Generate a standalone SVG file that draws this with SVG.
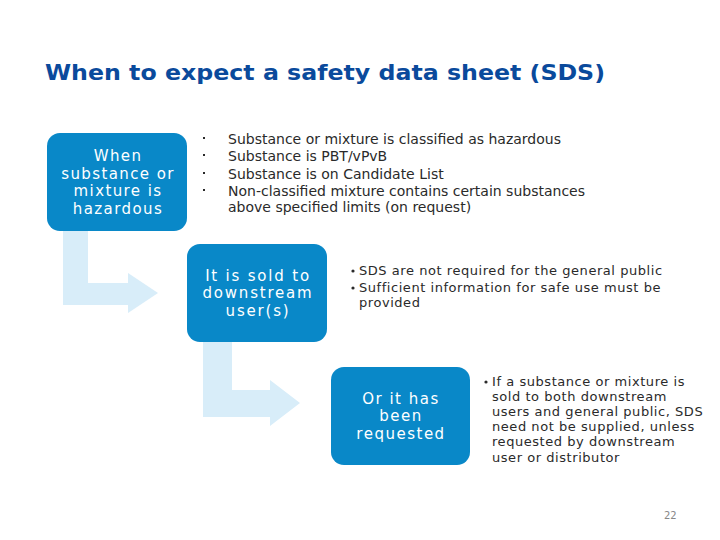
<svg xmlns="http://www.w3.org/2000/svg" width="720" height="540" viewBox="0 0 720 540">
<style>
.title{font-family:"DejaVu Sans",Verdana,sans-serif;font-weight:bold;font-size:20.5px;fill:#0a4a9c}
.box{fill:#0988c8}
.btxt{font-family:"DejaVu Sans",Verdana,sans-serif;font-size:15px;fill:#ffffff;text-anchor:middle}
.b1{letter-spacing:1.4px}
.b2{letter-spacing:1.8px}
.b3{letter-spacing:1.5px}
.arrow{fill:#d8edf9}
.list{font-family:"DejaVu Sans",Verdana,sans-serif;font-size:14px;fill:#2a2a2a}
.list.s{font-size:13px;letter-spacing:0.55px}
.pg{font-family:"DejaVu Sans",Verdana,sans-serif;font-size:10px;fill:#888888}
</style>
<rect width="720" height="540" fill="#ffffff"/>
<text class="title" x="45" y="80" textLength="560" lengthAdjust="spacingAndGlyphs">When to expect a safety data sheet (SDS)</text>
<g id="connectors">
<path class="arrow" d="M63,231 H88 V283 H128 V273 L158,293 L128,313 V305 H63 Z"/>
<path class="arrow" d="M203,342 H232 V390 H270 V380 L300,403 L270,426 V417 H203 Z"/>
</g>
<g id="node1">
<rect class="box" x="47" y="133" width="140" height="98" rx="13"/>
<text class="btxt b1" x="118" y="161">When</text>
<text class="btxt b1" x="118" y="178.5">substance or</text>
<text class="btxt b1" x="118" y="196">mixture is</text>
<text class="btxt b1" x="118" y="213.5">hazardous</text>
</g>
<g id="list1">
<rect x="203" y="137" width="2" height="2" fill="#2a2a2a"/>
<rect x="203" y="154" width="2" height="2" fill="#2a2a2a"/>
<rect x="203" y="172" width="2" height="2" fill="#2a2a2a"/>
<rect x="203" y="189" width="2" height="2" fill="#2a2a2a"/>
<text class="list" x="228" y="144">Substance or mixture is classified as hazardous</text>
<text class="list" x="228" y="161">Substance is PBT/vPvB</text>
<text class="list" x="228" y="179">Substance is on Candidate List</text>
<text class="list" x="228" y="196">Non-classified mixture contains certain substances</text>
<text class="list" x="228" y="212">above specified limits (on request)</text>
</g>
<g id="node2">
<rect class="box" x="187" y="244" width="140" height="98" rx="13"/>
<text class="btxt b2" x="258" y="280.5">It is sold to</text>
<text class="btxt b2" x="258" y="298">downstream</text>
<text class="btxt b2" x="258" y="315.5">user(s)</text>
</g>
<g id="list2">
<circle cx="353" cy="271" r="1.6" fill="#2a2a2a"/>
<circle cx="353" cy="288" r="1.6" fill="#2a2a2a"/>
<text class="list s" x="359" y="275">SDS are not required for the general public</text>
<text class="list s" x="359" y="292">Sufficient information for safe use must be</text>
<text class="list s" x="359" y="307">provided</text>
</g>
<g id="node3">
<rect class="box" x="331" y="367" width="139" height="98" rx="13"/>
<text class="btxt b3" x="401" y="403.5">Or it has</text>
<text class="btxt b3" x="401" y="421">been</text>
<text class="btxt b3" x="401" y="438.5">requested</text>
</g>
<g id="list3">
<circle cx="486" cy="382" r="1.6" fill="#2a2a2a"/>
<text class="list s" x="492" y="386">If a substance or mixture is</text>
<text class="list s" x="492" y="401">sold to both downstream</text>
<text class="list s" x="492" y="416">users and general public, SDS</text>
<text class="list s" x="492" y="431">need not be supplied, unless</text>
<text class="list s" x="492" y="446">requested by downstream</text>
<text class="list s" x="492" y="462">user or distributor</text>
</g>
<text class="pg" x="664" y="519">22</text>
</svg>
